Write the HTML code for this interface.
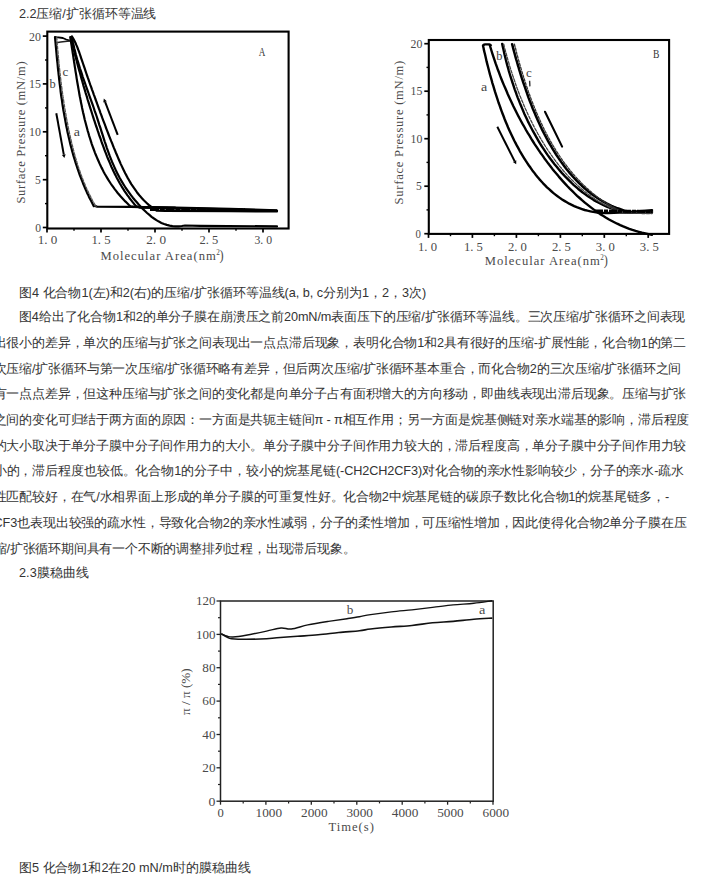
<!DOCTYPE html>
<html><head><meta charset="utf-8"><style>
html,body{margin:0;padding:0;background:#fff}
body{width:703px;height:877px;overflow:hidden;position:relative;font-family:"Liberation Sans",sans-serif}
.ln{position:absolute;white-space:nowrap;font-size:12.7px;line-height:25.4px;color:#333}
.ch{position:absolute;left:0;top:0}
</style></head><body>
<svg class="ch" width="703" height="877" viewBox="0 0 703 877"><rect x="47.3" y="31.6" width="241.3" height="196.9" fill="none" stroke="#000" stroke-width="2.1"/>
<line x1="42.8" y1="227.5" x2="47.3" y2="227.5" stroke="#000" stroke-width="1.7"/>
<line x1="42.8" y1="179.7" x2="47.3" y2="179.7" stroke="#000" stroke-width="1.7"/>
<line x1="42.8" y1="131.8" x2="47.3" y2="131.8" stroke="#000" stroke-width="1.7"/>
<line x1="42.8" y1="83.9" x2="47.3" y2="83.9" stroke="#000" stroke-width="1.7"/>
<line x1="42.8" y1="36.1" x2="47.3" y2="36.1" stroke="#000" stroke-width="1.7"/>
<line x1="45.0" y1="203.6" x2="47.3" y2="203.6" stroke="#000" stroke-width="1.4"/>
<line x1="45.0" y1="155.7" x2="47.3" y2="155.7" stroke="#000" stroke-width="1.4"/>
<line x1="45.0" y1="107.9" x2="47.3" y2="107.9" stroke="#000" stroke-width="1.4"/>
<line x1="45.0" y1="60.0" x2="47.3" y2="60.0" stroke="#000" stroke-width="1.4"/>
<line x1="47.0" y1="228.5" x2="47.0" y2="232.5" stroke="#000" stroke-width="1.7"/>
<line x1="101.0" y1="228.5" x2="101.0" y2="232.5" stroke="#000" stroke-width="1.7"/>
<line x1="155.0" y1="228.5" x2="155.0" y2="232.5" stroke="#000" stroke-width="1.7"/>
<line x1="209.0" y1="228.5" x2="209.0" y2="232.5" stroke="#000" stroke-width="1.7"/>
<line x1="263.0" y1="228.5" x2="263.0" y2="232.5" stroke="#000" stroke-width="1.7"/>
<line x1="74.0" y1="228.5" x2="74.0" y2="230.8" stroke="#000" stroke-width="1.4"/>
<line x1="128.0" y1="228.5" x2="128.0" y2="230.8" stroke="#000" stroke-width="1.4"/>
<line x1="182.0" y1="228.5" x2="182.0" y2="230.8" stroke="#000" stroke-width="1.4"/>
<line x1="236.0" y1="228.5" x2="236.0" y2="230.8" stroke="#000" stroke-width="1.4"/>
<text x="29.0" y="40.5" textLength="11.9" lengthAdjust="spacingAndGlyphs" style="font-family:'Liberation Serif';font-size:12.0px" fill="#4a4a4a" >20</text>
<text x="29.0" y="88.3" textLength="11.9" lengthAdjust="spacingAndGlyphs" style="font-family:'Liberation Serif';font-size:12.0px" fill="#4a4a4a" >15</text>
<text x="29.0" y="136.2" textLength="11.9" lengthAdjust="spacingAndGlyphs" style="font-family:'Liberation Serif';font-size:12.0px" fill="#4a4a4a" >10</text>
<text x="35.1" y="184.1" textLength="5.8" lengthAdjust="spacingAndGlyphs" style="font-family:'Liberation Serif';font-size:12.0px" fill="#4a4a4a" >5</text>
<text x="35.3" y="231.9" textLength="5.8" lengthAdjust="spacingAndGlyphs" style="font-family:'Liberation Serif';font-size:12.0px" fill="#4a4a4a" >0</text>
<text x="37.7" y="243.6" textLength="19.6" lengthAdjust="spacingAndGlyphs" style="font-family:'Liberation Serif';font-size:11.6px" fill="#4a4a4a" >1. 0</text>
<text x="91.4" y="243.6" textLength="19.2" lengthAdjust="spacingAndGlyphs" style="font-family:'Liberation Serif';font-size:11.6px" fill="#4a4a4a" >1. 5</text>
<text x="146.2" y="243.6" textLength="19.8" lengthAdjust="spacingAndGlyphs" style="font-family:'Liberation Serif';font-size:11.6px" fill="#4a4a4a" >2. 0</text>
<text x="199.6" y="243.6" textLength="18.7" lengthAdjust="spacingAndGlyphs" style="font-family:'Liberation Serif';font-size:11.6px" fill="#4a4a4a" >2. 5</text>
<text x="254.5" y="243.6" textLength="17.6" lengthAdjust="spacingAndGlyphs" style="font-family:'Liberation Serif';font-size:11.6px" fill="#4a4a4a" >3. 0</text>
<text transform="translate(25.2 203.3) rotate(-90)" x="-0.3" y="0" textLength="142.2" lengthAdjust="spacing" style="font-family:'Liberation Serif';font-size:12.6px" fill="#4a4a4a">Surface Pressure (mN/m)</text>
<text x="100.4" y="259.9" textLength="115.4" lengthAdjust="spacing" style="font-family:'Liberation Serif';font-size:12.6px" fill="#4a4a4a" >Molecular Area(nm</text>
<text x="216.2" y="254.5" textLength="3.6" lengthAdjust="spacingAndGlyphs" style="font-family:'Liberation Serif';font-size:7.5px" fill="#4a4a4a" >2</text>
<text x="219.5" y="259.9" textLength="4.1" lengthAdjust="spacingAndGlyphs" style="font-family:'Liberation Serif';font-size:14.0px" fill="#4a4a4a" >)</text>
<text x="258.7" y="55.7" textLength="6.6" lengthAdjust="spacingAndGlyphs" style="font-family:'Liberation Serif';font-size:13.4px" fill="#333" >A</text>
<rect x="428.8" y="40.0" width="240.3" height="193.9" fill="none" stroke="#000" stroke-width="2.1"/>
<line x1="424.3" y1="233.7" x2="428.8" y2="233.7" stroke="#000" stroke-width="1.7"/>
<line x1="424.3" y1="186.2" x2="428.8" y2="186.2" stroke="#000" stroke-width="1.7"/>
<line x1="424.3" y1="138.7" x2="428.8" y2="138.7" stroke="#000" stroke-width="1.7"/>
<line x1="424.3" y1="91.2" x2="428.8" y2="91.2" stroke="#000" stroke-width="1.7"/>
<line x1="424.3" y1="43.7" x2="428.8" y2="43.7" stroke="#000" stroke-width="1.7"/>
<line x1="426.5" y1="209.9" x2="428.8" y2="209.9" stroke="#000" stroke-width="1.4"/>
<line x1="426.5" y1="162.4" x2="428.8" y2="162.4" stroke="#000" stroke-width="1.4"/>
<line x1="426.5" y1="114.9" x2="428.8" y2="114.9" stroke="#000" stroke-width="1.4"/>
<line x1="426.5" y1="67.4" x2="428.8" y2="67.4" stroke="#000" stroke-width="1.4"/>
<line x1="428.5" y1="233.9" x2="428.5" y2="237.9" stroke="#000" stroke-width="1.7"/>
<line x1="472.4" y1="233.9" x2="472.4" y2="237.9" stroke="#000" stroke-width="1.7"/>
<line x1="516.4" y1="233.9" x2="516.4" y2="237.9" stroke="#000" stroke-width="1.7"/>
<line x1="560.4" y1="233.9" x2="560.4" y2="237.9" stroke="#000" stroke-width="1.7"/>
<line x1="604.3" y1="233.9" x2="604.3" y2="237.9" stroke="#000" stroke-width="1.7"/>
<line x1="648.2" y1="233.9" x2="648.2" y2="237.9" stroke="#000" stroke-width="1.7"/>
<line x1="450.5" y1="233.9" x2="450.5" y2="236.2" stroke="#000" stroke-width="1.4"/>
<line x1="494.4" y1="233.9" x2="494.4" y2="236.2" stroke="#000" stroke-width="1.4"/>
<line x1="538.4" y1="233.9" x2="538.4" y2="236.2" stroke="#000" stroke-width="1.4"/>
<line x1="582.3" y1="233.9" x2="582.3" y2="236.2" stroke="#000" stroke-width="1.4"/>
<line x1="626.3" y1="233.9" x2="626.3" y2="236.2" stroke="#000" stroke-width="1.4"/>
<text x="410.5" y="47.7" textLength="11.8" lengthAdjust="spacingAndGlyphs" style="font-family:'Liberation Serif';font-size:12.0px" fill="#4a4a4a" >20</text>
<text x="410.5" y="95.2" textLength="11.8" lengthAdjust="spacingAndGlyphs" style="font-family:'Liberation Serif';font-size:12.0px" fill="#4a4a4a" >15</text>
<text x="410.5" y="142.7" textLength="11.8" lengthAdjust="spacingAndGlyphs" style="font-family:'Liberation Serif';font-size:12.0px" fill="#4a4a4a" >10</text>
<text x="416.0" y="190.2" textLength="5.8" lengthAdjust="spacingAndGlyphs" style="font-family:'Liberation Serif';font-size:12.0px" fill="#4a4a4a" >5</text>
<text x="415.5" y="237.7" textLength="5.4" lengthAdjust="spacingAndGlyphs" style="font-family:'Liberation Serif';font-size:12.0px" fill="#4a4a4a" >0</text>
<text x="418.0" y="250.6" textLength="19.0" lengthAdjust="spacingAndGlyphs" style="font-family:'Liberation Serif';font-size:13.2px" fill="#4a4a4a" >1. 0</text>
<text x="463.9" y="250.6" textLength="19.0" lengthAdjust="spacingAndGlyphs" style="font-family:'Liberation Serif';font-size:13.2px" fill="#4a4a4a" >1. 5</text>
<text x="507.9" y="250.6" textLength="19.0" lengthAdjust="spacingAndGlyphs" style="font-family:'Liberation Serif';font-size:13.2px" fill="#4a4a4a" >2. 0</text>
<text x="551.9" y="250.6" textLength="19.0" lengthAdjust="spacingAndGlyphs" style="font-family:'Liberation Serif';font-size:13.2px" fill="#4a4a4a" >2. 5</text>
<text x="595.8" y="250.6" textLength="19.0" lengthAdjust="spacingAndGlyphs" style="font-family:'Liberation Serif';font-size:13.2px" fill="#4a4a4a" >3. 0</text>
<text x="639.8" y="250.6" textLength="19.0" lengthAdjust="spacingAndGlyphs" style="font-family:'Liberation Serif';font-size:13.2px" fill="#4a4a4a" >3. 5</text>
<text transform="translate(403.2 204.1) rotate(-90)" x="-0.3" y="0" textLength="143.7" lengthAdjust="spacing" style="font-family:'Liberation Serif';font-size:12.6px" fill="#4a4a4a">Surface Pressure (mN/m)</text>
<text x="484.7" y="264.9" textLength="115.1" lengthAdjust="spacing" style="font-family:'Liberation Serif';font-size:12.6px" fill="#4a4a4a" >Molecular Area(nm</text>
<text x="600.2" y="259.5" textLength="3.6" lengthAdjust="spacingAndGlyphs" style="font-family:'Liberation Serif';font-size:7.5px" fill="#4a4a4a" >2</text>
<text x="603.7" y="264.9" textLength="4.1" lengthAdjust="spacingAndGlyphs" style="font-family:'Liberation Serif';font-size:14.0px" fill="#4a4a4a" >)</text>
<text x="653.1" y="58.0" textLength="6.4" lengthAdjust="spacingAndGlyphs" style="font-family:'Liberation Serif';font-size:13.4px" fill="#333" >B</text>
<rect x="220.5" y="601.0" width="272.7" height="200.2" fill="none" stroke="#222" stroke-width="1.5"/>
<line x1="216.5" y1="801.2" x2="220.5" y2="801.2" stroke="#222" stroke-width="1.3"/>
<text x="208.6" y="805.5" textLength="6.9" lengthAdjust="spacingAndGlyphs" style="font-family:'Liberation Serif';font-size:12.6px" fill="#4a4a4a" >0</text>
<line x1="216.5" y1="767.8" x2="220.5" y2="767.8" stroke="#222" stroke-width="1.3"/>
<text x="202.3" y="772.1" textLength="13.2" lengthAdjust="spacingAndGlyphs" style="font-family:'Liberation Serif';font-size:12.6px" fill="#4a4a4a" >20</text>
<line x1="216.5" y1="734.5" x2="220.5" y2="734.5" stroke="#222" stroke-width="1.3"/>
<text x="202.3" y="738.8" textLength="13.2" lengthAdjust="spacingAndGlyphs" style="font-family:'Liberation Serif';font-size:12.6px" fill="#4a4a4a" >40</text>
<line x1="216.5" y1="701.1" x2="220.5" y2="701.1" stroke="#222" stroke-width="1.3"/>
<text x="202.3" y="705.4" textLength="13.2" lengthAdjust="spacingAndGlyphs" style="font-family:'Liberation Serif';font-size:12.6px" fill="#4a4a4a" >60</text>
<line x1="216.5" y1="667.7" x2="220.5" y2="667.7" stroke="#222" stroke-width="1.3"/>
<text x="202.3" y="672.0" textLength="13.2" lengthAdjust="spacingAndGlyphs" style="font-family:'Liberation Serif';font-size:12.6px" fill="#4a4a4a" >80</text>
<line x1="216.5" y1="634.4" x2="220.5" y2="634.4" stroke="#222" stroke-width="1.3"/>
<text x="196.0" y="638.7" textLength="19.5" lengthAdjust="spacingAndGlyphs" style="font-family:'Liberation Serif';font-size:12.6px" fill="#4a4a4a" >100</text>
<line x1="216.5" y1="601.0" x2="220.5" y2="601.0" stroke="#222" stroke-width="1.3"/>
<text x="196.0" y="605.3" textLength="19.5" lengthAdjust="spacingAndGlyphs" style="font-family:'Liberation Serif';font-size:12.6px" fill="#4a4a4a" >120</text>
<line x1="218.0" y1="784.5" x2="220.5" y2="784.5" stroke="#222" stroke-width="1.2"/>
<line x1="218.0" y1="751.2" x2="220.5" y2="751.2" stroke="#222" stroke-width="1.2"/>
<line x1="218.0" y1="717.8" x2="220.5" y2="717.8" stroke="#222" stroke-width="1.2"/>
<line x1="218.0" y1="684.4" x2="220.5" y2="684.4" stroke="#222" stroke-width="1.2"/>
<line x1="218.0" y1="651.1" x2="220.5" y2="651.1" stroke="#222" stroke-width="1.2"/>
<line x1="218.0" y1="617.7" x2="220.5" y2="617.7" stroke="#222" stroke-width="1.2"/>
<line x1="220.5" y1="801.2" x2="220.5" y2="804.7" stroke="#222" stroke-width="1.3"/>
<text x="217.5" y="817.0" textLength="6.3" lengthAdjust="spacingAndGlyphs" style="font-family:'Liberation Serif';font-size:13.4px" fill="#4a4a4a" >0</text>
<line x1="265.9" y1="801.2" x2="265.9" y2="804.7" stroke="#222" stroke-width="1.3"/>
<text x="255.6" y="817.0" textLength="26.5" lengthAdjust="spacingAndGlyphs" style="font-family:'Liberation Serif';font-size:13.4px" fill="#4a4a4a" >1000</text>
<line x1="311.3" y1="801.2" x2="311.3" y2="804.7" stroke="#222" stroke-width="1.3"/>
<text x="301.0" y="817.0" textLength="26.5" lengthAdjust="spacingAndGlyphs" style="font-family:'Liberation Serif';font-size:13.4px" fill="#4a4a4a" >2000</text>
<line x1="356.8" y1="801.2" x2="356.8" y2="804.7" stroke="#222" stroke-width="1.3"/>
<text x="346.4" y="817.0" textLength="26.5" lengthAdjust="spacingAndGlyphs" style="font-family:'Liberation Serif';font-size:13.4px" fill="#4a4a4a" >3000</text>
<line x1="402.2" y1="801.2" x2="402.2" y2="804.7" stroke="#222" stroke-width="1.3"/>
<text x="391.8" y="817.0" textLength="26.5" lengthAdjust="spacingAndGlyphs" style="font-family:'Liberation Serif';font-size:13.4px" fill="#4a4a4a" >4000</text>
<line x1="447.6" y1="801.2" x2="447.6" y2="804.7" stroke="#222" stroke-width="1.3"/>
<text x="437.2" y="817.0" textLength="26.5" lengthAdjust="spacingAndGlyphs" style="font-family:'Liberation Serif';font-size:13.4px" fill="#4a4a4a" >5000</text>
<line x1="493.0" y1="801.2" x2="493.0" y2="804.7" stroke="#222" stroke-width="1.3"/>
<text x="482.6" y="817.0" textLength="26.5" lengthAdjust="spacingAndGlyphs" style="font-family:'Liberation Serif';font-size:13.4px" fill="#4a4a4a" >6000</text>
<line x1="243.2" y1="801.2" x2="243.2" y2="803.4" stroke="#222" stroke-width="1.2"/>
<line x1="288.6" y1="801.2" x2="288.6" y2="803.4" stroke="#222" stroke-width="1.2"/>
<line x1="334.0" y1="801.2" x2="334.0" y2="803.4" stroke="#222" stroke-width="1.2"/>
<line x1="379.5" y1="801.2" x2="379.5" y2="803.4" stroke="#222" stroke-width="1.2"/>
<line x1="424.9" y1="801.2" x2="424.9" y2="803.4" stroke="#222" stroke-width="1.2"/>
<line x1="470.3" y1="801.2" x2="470.3" y2="803.4" stroke="#222" stroke-width="1.2"/>
<text x="328.5" y="831.0" textLength="45.4" lengthAdjust="spacing" style="font-family:'Liberation Serif';font-size:12.6px" fill="#4a4a4a" >Time(s)</text>
<text transform="translate(189.6 714.6) rotate(-90)" x="-0.3" y="0" textLength="46.5" lengthAdjust="spacingAndGlyphs" style="font-family:'Liberation Serif';font-size:12.5px" fill="#4a4a4a">π / π (%)</text>
<path d="M221.2,633.8 C222.2,634.4 225.7,636.5 227.4,637.3 C229.1,638.1 228.4,638.4 231.5,638.7 C234.6,639.0 240.2,639.3 246.0,639.3 C251.8,639.3 261.5,639.0 266.6,638.7 C271.8,638.4 271.8,638.1 276.9,637.7 C282.0,637.3 290.6,636.8 297.5,636.3 C304.4,635.8 311.2,635.4 318.1,634.8 C325.0,634.2 331.9,633.2 338.8,632.5 C345.7,631.8 354.1,631.3 359.4,630.7 C364.7,630.1 365.3,629.6 370.6,629.0 C375.9,628.4 384.4,627.6 391.3,627.0 C398.2,626.4 405.0,626.2 411.9,625.5 C418.8,624.8 425.6,623.5 432.5,622.8 C439.4,622.1 446.2,622.0 453.1,621.4 C460.0,620.8 467.3,619.8 473.8,619.3 C480.3,618.8 489.2,618.3 492.3,618.1" fill="none" stroke="#111" stroke-width="1.6"/>
<path d="M221.2,633.8 C222.2,634.2 225.4,635.8 227.4,636.3 C229.4,636.8 229.9,637.2 233.0,637.0 C236.1,636.8 240.4,636.2 246.0,635.2 C251.6,634.2 260.8,632.3 266.6,631.1 C272.4,629.9 276.9,628.4 281.0,628.0 C285.1,627.6 286.8,629.5 291.3,629.0 C295.8,628.5 301.6,626.2 307.8,624.9 C314.0,623.6 321.9,622.4 328.4,621.4 C334.9,620.4 341.8,619.5 347.0,618.7 C352.2,617.9 355.5,617.4 359.4,616.7 C363.3,616.0 365.3,615.4 370.6,614.6 C375.9,613.8 384.4,612.7 391.3,611.9 C398.2,611.1 405.0,610.6 411.9,609.9 C418.8,609.1 425.6,608.2 432.5,607.4 C439.4,606.6 446.2,605.6 453.1,604.9 C460.0,604.2 467.3,604.0 473.8,603.3 C480.3,602.6 489.2,601.2 492.3,600.8" fill="none" stroke="#111" stroke-width="1.4"/>
<text x="346.7" y="613.6" textLength="6.6" lengthAdjust="spacingAndGlyphs" style="font-family:'Liberation Serif';font-size:12.5px" fill="#4a4a4a" >b</text>
<text x="478.9" y="614.0" textLength="6.4" lengthAdjust="spacingAndGlyphs" style="font-family:'Liberation Serif';font-size:12.5px" fill="#4a4a4a" >a</text>
<path d="M55.2,36.8 L56.4,37.1 L62.8,38 L66.2,39.5 L69.8,40.6" fill="none" stroke="#000" stroke-width="1.8" stroke-linejoin="round"/>
<path d="M56.3,42.7 L60.7,42 L67.1,41.2 L70.6,41" fill="none" stroke="#222" stroke-width="1.6" stroke-linejoin="round"/>
<path d="M55.0,37.1 L55.2,39.3 L55.4,41.5 L55.6,43.6 L55.8,45.8 L56.0,48.0 L56.2,50.2 L56.4,52.4 L56.6,54.6 L56.8,56.8 L57.0,59.0 L57.2,61.2 L57.5,63.4 L57.7,65.6 L57.9,67.8 L58.1,70.0 L58.4,72.2 L58.6,74.4 L58.9,76.6 L59.1,78.8 L59.4,81.0 L59.6,83.2 L59.9,85.4 L60.2,87.6 L60.5,89.9 L60.7,92.1 L61.0,94.3 L61.3,96.5 L61.7,98.7 L62.0,100.9 L62.3,103.1 L62.6,105.3 L63.0,107.5 L63.3,109.7 L63.7,111.9 L64.1,114.0 L64.5,116.2 L64.9,118.4 L65.3,120.6 L65.7,122.8 L66.1,125.0 L66.5,127.1 L67.0,129.3 L67.4,131.5 L67.9,133.7 L68.4,135.8 L68.9,138.0 L69.4,140.1 L69.9,142.3 L70.4,144.4 L71.0,146.6 L71.6,148.7 L72.1,150.9 L72.7,153.0 L73.3,155.1 L73.9,157.2 L74.6,159.3 L75.2,161.5 L75.9,163.6 L76.6,165.7 L77.3,167.8 L78.0,169.8 L78.7,171.9 L79.4,174.0 L80.2,176.1 L81.0,178.1 L81.8,180.2 L82.6,182.2 L83.4,184.3 L84.3,186.3 L85.1,188.3 L86.0,190.3 L86.9,192.4 L87.9,194.4 L88.8,196.4 L89.8,198.4 L90.8,200.3 L91.8,202.3 L92.8,204.3 L93.8,206.2" fill="none" stroke="#000" stroke-width="2.20" stroke-linejoin="round" stroke-linecap="round" />
<path d="M94.5,205.8 L97,206.6 L130,206.9 L175,207.6 L230,208.8 L277,210.3" fill="none" stroke="#000" stroke-width="2.2"/>
<path d="M56.7,37.1 L56.9,39.3 L57.0,41.5 L57.2,43.7 L57.4,45.9 L57.6,48.1 L57.8,50.3 L58.0,52.5 L58.2,54.7 L58.4,56.9 L58.6,59.1 L58.8,61.3 L59.0,63.5 L59.2,65.8 L59.5,68.0 L59.7,70.2 L59.9,72.4 L60.2,74.6 L60.4,76.8 L60.7,79.0 L61.0,81.3 L61.2,83.5 L61.5,85.7 L61.8,87.9 L62.1,90.1 L62.4,92.3 L62.7,94.5 L63.0,96.7 L63.4,99.0 L63.7,101.2 L64.0,103.4 L64.4,105.6 L64.7,107.8 L65.1,110.0 L65.5,112.2 L65.9,114.4 L66.2,116.6 L66.6,118.8 L67.1,121.0 L67.5,123.2 L67.9,125.4 L68.3,127.6 L68.8,129.8 L69.2,132.0 L69.7,134.1 L70.2,136.3 L70.7,138.5 L71.2,140.7 L71.7,142.8 L72.2,145.0 L72.8,147.2 L73.3,149.3 L73.9,151.5 L74.4,153.6 L75.0,155.8 L75.6,157.9 L76.3,160.1 L76.9,162.2 L77.6,164.3 L78.2,166.4 L78.9,168.5 L79.6,170.6 L80.4,172.7 L81.1,174.8 L81.9,176.9 L82.7,178.9 L83.5,181.0 L84.3,183.0 L85.2,185.1 L86.0,187.1 L86.9,189.1 L87.9,191.1 L88.8,193.1 L89.8,195.1 L90.8,197.1 L91.8,199.0 L92.8,201.0 L93.9,202.9 L95.0,204.8 L96.1,206.7" fill="none" stroke="#555" stroke-width="1.30" stroke-linejoin="round" stroke-linecap="round" stroke-dasharray="3,1.5"/>
<path d="M70.3,37.2 L70.6,39.4 L71.0,41.6 L71.3,43.9 L71.7,46.1 L72.0,48.4 L72.4,50.6 L72.7,52.9 L73.1,55.1 L73.4,57.4 L73.8,59.7 L74.1,62.0 L74.5,64.3 L74.8,66.6 L75.2,68.8 L75.5,71.1 L75.9,73.4 L76.3,75.7 L76.6,78.1 L77.0,80.4 L77.4,82.7 L77.8,85.0 L78.2,87.3 L78.6,89.6 L79.0,91.9 L79.4,94.2 L79.8,96.5 L80.3,98.8 L80.7,101.1 L81.2,103.4 L81.7,105.7 L82.1,108.0 L82.6,110.3 L83.1,112.6 L83.7,114.9 L84.2,117.2 L84.7,119.5 L85.3,121.7 L85.9,124.0 L86.5,126.3 L87.1,128.5 L87.7,130.8 L88.4,133.0 L89.0,135.3 L89.7,137.5 L90.4,139.7 L91.1,141.9 L91.8,144.1 L92.6,146.3 L93.4,148.5 L94.2,150.7 L95.0,152.8 L95.9,155.0 L96.8,157.1 L97.7,159.2 L98.6,161.3 L99.5,163.4 L100.5,165.5 L101.5,167.6 L102.6,169.6 L103.6,171.7 L104.7,173.7 L105.9,175.7 L107.0,177.6 L108.2,179.6 L109.4,181.5 L110.7,183.5 L112.0,185.4 L113.3,187.2 L114.7,189.1 L116.1,190.9 L117.5,192.7 L119.0,194.5 L120.5,196.3 L122.1,198.0 L123.7,199.7 L125.3,201.4 L127.0,203.0 L128.7,204.7 L130.4,206.3 L134.0,206.8 L175.0,207.6" fill="none" stroke="#000" stroke-width="2.20" stroke-linejoin="round" stroke-linecap="round" />
<path d="M70.7,37.1 L71.2,39.3 L71.8,41.5 L72.3,43.8 L72.9,46.0 L73.4,48.2 L74.0,50.5 L74.5,52.7 L75.1,54.9 L75.7,57.2 L76.3,59.4 L76.8,61.6 L77.4,63.8 L78.0,66.1 L78.6,68.3 L79.2,70.5 L79.9,72.8 L80.5,75.0 L81.1,77.2 L81.7,79.4 L82.4,81.7 L83.0,83.9 L83.6,86.1 L84.3,88.3 L85.0,90.6 L85.6,92.8 L86.3,95.0 L87.0,97.2 L87.6,99.5 L88.3,101.7 L89.0,103.9 L89.7,106.1 L90.4,108.3 L91.1,110.5 L91.8,112.8 L92.5,115.0 L93.2,117.2 L93.9,119.4 L94.7,121.6 L95.4,123.8 L96.1,126.0 L96.9,128.2 L97.6,130.4 L98.4,132.6 L99.1,134.8 L99.9,137.0 L100.7,139.2 L101.4,141.4 L102.2,143.6 L103.0,145.7 L103.8,147.9 L104.6,150.1 L105.4,152.2 L106.3,154.4 L107.1,156.6 L108.0,158.7 L108.9,160.8 L109.8,162.9 L110.7,165.1 L111.6,167.2 L112.6,169.2 L113.5,171.3 L114.5,173.4 L115.6,175.4 L116.6,177.5 L117.7,179.5 L118.8,181.5 L119.9,183.5 L121.1,185.5 L122.2,187.4 L123.5,189.4 L124.7,191.3 L126.0,193.2 L127.3,195.1 L128.7,196.9 L130.0,198.8 L131.5,200.6 L132.9,202.4 L134.4,204.2 L136.0,205.9 L139.5,207.6 L200.0,208.6 L277.0,210.6" fill="none" stroke="#000" stroke-width="2.20" stroke-linejoin="round" stroke-linecap="round" />
<path d="M71.8,36.9 L72.4,39.8 L73.0,42.7 L73.7,45.6 L74.3,48.5 L75.1,51.4 L75.8,54.3 L76.6,57.2 L77.4,60.0 L78.3,62.9 L79.1,65.7 L80.0,68.6 L81.0,71.4 L81.9,74.2 L82.8,77.1 L83.8,79.9 L84.8,82.7 L85.8,85.5 L86.8,88.3 L87.8,91.1 L88.8,94.0 L89.8,96.8 L90.8,99.6 L91.8,102.4 L92.8,105.2 L93.8,108.0 L94.7,110.9 L95.7,113.7 L96.7,116.5 L97.6,119.4 L98.5,122.2 L99.4,125.1 L100.4,127.9 L101.3,130.8 L102.2,133.6 L103.1,136.4 L104.0,139.3 L104.9,142.1 L105.9,144.9 L106.8,147.8 L107.8,150.6 L108.8,153.4 L109.8,156.2 L110.9,158.9 L112.0,161.7 L113.2,164.4 L114.4,167.1 L115.6,169.8 L116.9,172.5 L118.2,175.1 L119.6,177.8 L121.1,180.4 L122.6,182.9 L124.2,185.5 L125.8,188.0 L127.5,190.4 L129.3,192.9 L131.1,195.3 L132.9,197.7 L134.8,200.0 L136.8,202.3 L138.7,204.5 L140.8,206.7 L142.8,208.9 L145.0,211.0 L147.1,213.0 L149.4,214.9 L151.6,216.8 L154.0,218.5 L156.4,220.1 L158.9,221.6 L161.4,222.9 L164.1,224.0 L166.8,224.9 L169.6,225.6 L172.5,226.1 L175.5,226.4 L178.6,226.3 L181.8,226.0 L185.1,225.5 L200.0,225.8 L277.0,226.4" fill="none" stroke="#000" stroke-width="2.20" stroke-linejoin="round" stroke-linecap="round" />
<path d="M72.0,36.5 L73.2,38.5 L74.3,40.6 L75.4,42.7 L76.3,44.9 L77.3,47.1 L78.1,49.4 L79.0,51.7 L79.8,54.0 L80.6,56.4 L81.4,58.8 L82.2,61.1 L83.0,63.5 L83.8,65.9 L84.6,68.2 L85.4,70.6 L86.2,73.0 L87.0,75.4 L87.8,77.7 L88.7,80.1 L89.5,82.5 L90.3,84.9 L91.2,87.2 L92.0,89.6 L92.9,91.9 L93.7,94.3 L94.6,96.7 L95.4,99.0 L96.3,101.4 L97.1,103.7 L98.0,106.1 L98.8,108.4 L99.7,110.7 L100.5,113.1 L101.4,115.4 L102.2,117.7 L103.1,120.1 L104.0,122.4 L104.9,124.7 L105.7,127.0 L106.6,129.3 L107.5,131.7 L108.4,134.0 L109.3,136.3 L110.2,138.6 L111.1,140.9 L112.1,143.2 L113.0,145.6 L113.9,147.9 L114.9,150.2 L115.8,152.5 L116.8,154.8 L117.8,157.2 L118.8,159.5 L119.8,161.8 L120.8,164.1 L121.9,166.4 L123.0,168.7 L124.1,170.9 L125.2,173.2 L126.4,175.4 L127.5,177.6 L128.8,179.8 L130.0,181.9 L131.3,184.1 L132.7,186.1 L134.1,188.2 L135.5,190.2 L136.9,192.2 L138.5,194.2 L140.0,196.1 L141.7,197.9 L143.3,199.7 L145.1,201.5 L146.9,203.2 L148.7,204.9 L150.7,206.4 L152.6,207.9 L154.7,209.4 L156.8,210.7 L165.0,210.8 L230.0,211.2 L277.0,211.5" fill="none" stroke="#000" stroke-width="2.20" stroke-linejoin="round" stroke-linecap="round" />
<path d="M150,209.2 L245,210.0" stroke="#000" stroke-width="3.4" stroke-dasharray="9,0.8,5,0.8"/>
<line x1="56.3" y1="113.2" x2="63.8" y2="154.6" stroke="#000" stroke-width="2.0"/>
<path d="M64.4,158.0 L61.9,154.9 L65.6,154.2 Z" fill="#000"/>
<line x1="117.7" y1="134.8" x2="105.1" y2="101.9" stroke="#000" stroke-width="2.0"/>
<path d="M103.8,98.6 L106.8,101.2 L103.3,102.5 Z" fill="#000"/>
<text x="62.5" y="75.5" textLength="5.8" lengthAdjust="spacingAndGlyphs" style="font-family:'Liberation Serif';font-size:12.0px" fill="#444" >c</text>
<text x="49.5" y="87.5" textLength="6.2" lengthAdjust="spacingAndGlyphs" style="font-family:'Liberation Serif';font-size:12.0px" fill="#444" >b</text>
<text x="73.7" y="136.0" textLength="6.2" lengthAdjust="spacingAndGlyphs" style="font-family:'Liberation Serif';font-size:12.0px" fill="#444" >a</text>
<path d="M483.2,46 Q483.2,44.4 485,44.4 L489.5,44.4 Q490.8,44.4 491,46" fill="none" stroke="#000" stroke-width="2.4"/>
<path d="M483.0,45.8 L483.6,48.3 L484.1,50.9 L484.8,53.5 L485.4,56.1 L486.0,58.7 L486.6,61.4 L487.3,64.1 L488.0,66.8 L488.7,69.5 L489.4,72.2 L490.1,74.9 L490.9,77.6 L491.7,80.4 L492.4,83.1 L493.3,85.9 L494.1,88.6 L494.9,91.4 L495.8,94.2 L496.7,96.9 L497.6,99.7 L498.5,102.5 L499.5,105.2 L500.5,108.0 L501.5,110.8 L502.5,113.5 L503.6,116.3 L504.6,119.0 L505.7,121.7 L506.9,124.5 L508.0,127.2 L509.2,129.9 L510.4,132.5 L511.7,135.2 L512.9,137.8 L514.2,140.5 L515.6,143.1 L516.9,145.7 L518.3,148.2 L519.7,150.8 L521.2,153.3 L522.7,155.8 L524.2,158.3 L525.7,160.7 L527.3,163.1 L528.9,165.5 L530.6,167.8 L532.2,170.2 L534.0,172.4 L535.7,174.7 L537.5,176.9 L539.3,179.1 L541.2,181.2 L543.1,183.3 L545.1,185.3 L547.0,187.3 L549.1,189.2 L551.1,191.0 L553.2,192.9 L555.4,194.6 L557.6,196.3 L559.8,197.9 L562.1,199.5 L564.4,200.9 L566.8,202.3 L569.2,203.7 L571.7,204.9 L574.2,206.1 L576.7,207.2 L579.4,208.2 L582.0,209.1 L584.7,210.0 L587.5,210.7 L590.3,211.3 L593.2,211.9 L596.1,212.3 L599.1,212.7 L602.1,212.9 L605.2,213.0 L608.3,213.0 L625.0,212.2 L652.0,212.6" fill="none" stroke="#000" stroke-width="2.40" stroke-linejoin="round" stroke-linecap="round" />
<path d="M489.9,45.5 L490.8,48.5 L491.7,51.5 L492.7,54.6 L493.7,57.6 L494.7,60.6 L495.7,63.7 L496.8,66.7 L497.9,69.8 L499.1,72.8 L500.2,75.9 L501.4,79.0 L502.6,82.0 L503.9,85.1 L505.2,88.1 L506.5,91.1 L507.8,94.2 L509.2,97.2 L510.6,100.2 L512.0,103.3 L513.4,106.3 L514.9,109.3 L516.4,112.3 L517.9,115.2 L519.5,118.2 L521.1,121.2 L522.7,124.1 L524.4,127.0 L526.0,130.0 L527.7,132.9 L529.5,135.7 L531.2,138.6 L533.0,141.5 L534.8,144.3 L536.7,147.1 L538.5,149.9 L540.4,152.7 L542.4,155.4 L544.3,158.2 L546.3,160.9 L548.3,163.6 L550.4,166.2 L552.4,168.9 L554.5,171.5 L556.7,174.0 L558.8,176.6 L561.0,179.1 L563.2,181.6 L565.5,184.1 L567.7,186.5 L570.0,188.9 L572.4,191.2 L574.7,193.5 L577.1,195.8 L579.6,198.0 L582.0,200.2 L584.5,202.3 L587.1,204.4 L589.6,206.4 L592.2,208.4 L594.9,210.4 L597.5,212.2 L600.2,214.1 L603.0,215.8 L605.7,217.5 L608.6,219.2 L611.4,220.7 L614.3,222.2 L617.2,223.7 L620.2,225.1 L623.2,226.4 L626.2,227.6 L629.3,228.8 L632.4,229.9 L635.6,230.9 L638.8,231.8 L642.0,232.7 L645.3,233.4 L648.6,234.1 L652.0,234.7" fill="none" stroke="#000" stroke-width="2.40" stroke-linejoin="round" stroke-linecap="round" />
<path d="M502.2,44.0 L502.8,46.7 L503.4,49.3 L504.0,52.0 L504.6,54.7 L505.3,57.4 L505.9,60.0 L506.6,62.7 L507.3,65.4 L508.1,68.1 L508.8,70.8 L509.6,73.5 L510.4,76.2 L511.3,78.9 L512.1,81.5 L513.0,84.2 L513.9,86.9 L514.8,89.6 L515.8,92.2 L516.7,94.9 L517.7,97.6 L518.8,100.2 L519.8,102.9 L520.9,105.5 L522.0,108.1 L523.1,110.7 L524.2,113.4 L525.4,115.9 L526.6,118.5 L527.8,121.1 L529.1,123.7 L530.4,126.2 L531.7,128.7 L533.0,131.2 L534.4,133.7 L535.8,136.2 L537.2,138.7 L538.6,141.1 L540.1,143.6 L541.6,146.0 L543.2,148.4 L544.7,150.7 L546.3,153.1 L547.9,155.4 L549.6,157.7 L551.3,160.0 L553.0,162.2 L554.7,164.4 L556.5,166.6 L558.3,168.8 L560.1,170.9 L562.0,173.1 L563.9,175.1 L565.8,177.2 L567.8,179.2 L569.8,181.2 L571.8,183.2 L573.8,185.1 L575.9,186.9 L578.0,188.7 L580.2,190.5 L582.4,192.3 L584.6,193.9 L586.9,195.5 L589.1,197.1 L591.5,198.6 L593.8,200.1 L596.2,201.5 L598.7,202.8 L601.1,204.0 L603.6,205.2 L606.2,206.3 L608.7,207.4 L611.4,208.3 L614.0,209.2 L616.7,210.0 L619.4,210.8 L622.2,211.4 L625.0,212.0 L627.8,212.4 L652.0,211.5" fill="none" stroke="#000" stroke-width="2.40" stroke-linejoin="round" stroke-linecap="round" />
<path d="M503.7,44.2 L504.3,46.7 L505.0,49.3 L505.7,51.9 L506.4,54.4 L507.1,57.0 L507.8,59.6 L508.6,62.2 L509.3,64.8 L510.1,67.4 L510.9,70.0 L511.8,72.6 L512.6,75.2 L513.5,77.8 L514.4,80.4 L515.3,83.1 L516.2,85.7 L517.1,88.3 L518.1,90.9 L519.1,93.5 L520.1,96.1 L521.2,98.7 L522.2,101.2 L523.3,103.8 L524.4,106.4 L525.5,109.0 L526.7,111.5 L527.8,114.0 L529.0,116.6 L530.2,119.1 L531.5,121.6 L532.7,124.1 L534.0,126.6 L535.3,129.1 L536.7,131.5 L538.0,134.0 L539.4,136.4 L540.8,138.8 L542.2,141.2 L543.7,143.6 L545.2,146.0 L546.7,148.3 L548.2,150.6 L549.8,152.9 L551.4,155.2 L553.0,157.5 L554.6,159.7 L556.3,161.9 L558.0,164.1 L559.7,166.3 L561.5,168.4 L563.2,170.5 L565.1,172.6 L566.9,174.7 L568.7,176.7 L570.6,178.7 L572.6,180.6 L574.5,182.5 L576.5,184.4 L578.5,186.3 L580.5,188.1 L582.6,189.8 L584.7,191.6 L586.9,193.2 L589.0,194.9 L591.2,196.5 L593.5,198.0 L595.7,199.5 L598.0,201.0 L600.4,202.4 L602.7,203.7 L605.1,205.0 L607.6,206.2 L610.0,207.4 L612.5,208.6 L615.1,209.6 L617.6,210.6 L620.3,211.6 L622.9,212.5 L625.6,213.3 L652.0,213.6" fill="none" stroke="#444" stroke-width="1.30" stroke-linejoin="round" stroke-linecap="round" stroke-dasharray="3,1.5"/>
<path d="M512.1,44.2 L512.8,46.7 L513.4,49.2 L514.1,51.7 L514.8,54.3 L515.5,56.8 L516.2,59.3 L517.0,61.9 L517.7,64.5 L518.5,67.0 L519.2,69.6 L520.0,72.2 L520.8,74.8 L521.6,77.4 L522.5,80.0 L523.3,82.5 L524.2,85.1 L525.1,87.7 L526.0,90.3 L526.9,92.9 L527.8,95.5 L528.7,98.1 L529.7,100.7 L530.7,103.3 L531.7,105.9 L532.7,108.5 L533.8,111.0 L534.9,113.6 L535.9,116.1 L537.1,118.7 L538.2,121.2 L539.4,123.7 L540.5,126.3 L541.7,128.8 L543.0,131.3 L544.2,133.7 L545.5,136.2 L546.8,138.6 L548.1,141.1 L549.5,143.5 L550.9,145.9 L552.3,148.3 L553.7,150.6 L555.2,153.0 L556.6,155.3 L558.2,157.6 L559.7,159.8 L561.3,162.1 L562.9,164.3 L564.5,166.5 L566.2,168.7 L567.9,170.8 L569.6,172.9 L571.4,174.9 L573.2,177.0 L575.0,178.9 L576.9,180.9 L578.8,182.8 L580.7,184.7 L582.6,186.5 L584.6,188.3 L586.7,190.0 L588.7,191.7 L590.8,193.4 L593.0,195.0 L595.2,196.5 L597.4,198.0 L599.6,199.4 L601.9,200.8 L604.2,202.1 L606.6,203.4 L609.0,204.6 L611.5,205.8 L614.0,206.9 L616.5,207.9 L619.1,208.8 L621.7,209.7 L624.3,210.6 L627.0,211.3 L629.7,212.0 L652.0,210.2" fill="none" stroke="#000" stroke-width="2.50" stroke-linejoin="round" stroke-linecap="round" />
<path d="M514.4,44.1 L515.0,46.6 L515.7,49.0 L516.3,51.5 L516.9,54.0 L517.6,56.5 L518.3,59.0 L519.0,61.5 L519.7,64.0 L520.4,66.5 L521.2,69.1 L521.9,71.6 L522.7,74.1 L523.5,76.7 L524.3,79.2 L525.1,81.7 L525.9,84.3 L526.8,86.8 L527.7,89.4 L528.5,91.9 L529.5,94.5 L530.4,97.0 L531.3,99.5 L532.3,102.0 L533.3,104.6 L534.3,107.1 L535.3,109.6 L536.3,112.1 L537.4,114.6 L538.5,117.1 L539.6,119.5 L540.7,122.0 L541.9,124.4 L543.0,126.9 L544.2,129.3 L545.4,131.7 L546.7,134.1 L547.9,136.5 L549.2,138.9 L550.5,141.2 L551.9,143.6 L553.2,145.9 L554.6,148.2 L556.0,150.5 L557.4,152.7 L558.9,155.0 L560.4,157.2 L561.9,159.4 L563.4,161.5 L565.0,163.7 L566.6,165.8 L568.2,167.9 L569.8,170.0 L571.5,172.0 L573.2,174.0 L574.9,176.0 L576.7,178.0 L578.5,179.9 L580.3,181.8 L582.1,183.7 L584.0,185.5 L585.9,187.3 L587.9,189.1 L589.8,190.8 L591.8,192.5 L593.9,194.2 L595.9,195.8 L598.0,197.4 L600.1,199.0 L602.3,200.5 L604.5,201.9 L606.7,203.4 L609.0,204.8 L611.3,206.1 L613.6,207.4 L615.9,208.7 L618.3,209.9 L620.8,211.1 L623.2,212.2 L625.7,213.3 L652.0,212.0" fill="none" stroke="#333" stroke-width="1.30" stroke-linejoin="round" stroke-linecap="round" stroke-dasharray="2.5,1.5"/>
<path d="M595,211 L652,211.5" stroke="#000" stroke-width="3" stroke-dasharray="8,1,4,1"/>
<line x1="497.3" y1="126.7" x2="514.6" y2="161.1" stroke="#000" stroke-width="2.0"/>
<path d="M516.2,164.2 L512.9,161.9 L516.3,160.2 Z" fill="#000"/>
<line x1="562.1" y1="146.6" x2="545" y2="111.8" stroke="#000" stroke-width="2.1" stroke-linecap="round"/>
<text x="496.2" y="59.5" textLength="6.2" lengthAdjust="spacingAndGlyphs" style="font-family:'Liberation Serif';font-size:12.0px" fill="#444" >b</text>
<text x="526.1" y="76.5" textLength="5.8" lengthAdjust="spacingAndGlyphs" style="font-family:'Liberation Serif';font-size:12.0px" fill="#444" >c</text>
<line x1="529.6" y1="80.7" x2="529.9" y2="86.4" stroke="#333" stroke-width="1.4"/>
<text x="481.1" y="90.8" textLength="6.2" lengthAdjust="spacingAndGlyphs" style="font-family:'Liberation Serif';font-size:12.0px" fill="#444" >a</text></svg>
<div class="ln" id="l0" style="left:19.0px;top:1.5px;letter-spacing:-0.058px">2.2压缩/扩张循环等温线</div>
<div class="ln" id="l1" style="left:19.0px;top:280.9px;letter-spacing:-0.023px">图4 化合物1(左)和2(右)的压缩/扩张循环等温线(a, b, c分别为1，2，3次)</div>
<div class="ln" id="l2" style="left:19.0px;top:305.2px;letter-spacing:-0.139px">图4给出了化合物1和2的单分子膜在崩溃压之前20mN/m表面压下的压缩/扩张循环等温线。三次压缩/扩张循环之间表现</div>
<div class="ln" id="l3" style="left:-6.4px;top:330.9px;letter-spacing:-0.160px">出很小的差异，单次的压缩与扩张之间表现出一点点滞后现象，表明化合物1和2具有很好的压缩-扩展性能，化合物1的第二</div>
<div class="ln" id="l4" style="left:-6.4px;top:356.6px;letter-spacing:-0.168px">次压缩/扩张循环与第一次压缩/扩张循环略有差异，但后两次压缩/扩张循环基本重合，而化合物2的三次压缩/扩张循环之间</div>
<div class="ln" id="l5" style="left:-6.4px;top:382.3px;letter-spacing:-0.172px">有一点点差异，但这种压缩与扩张之间的变化都是向单分子占有面积增大的方向移动，即曲线表现出滞后现象。压缩与扩张</div>
<div class="ln" id="l6" style="left:-6.4px;top:408.0px;letter-spacing:-0.161px">之间的变化可归结于两方面的原因：一方面是共轭主链间π - π相互作用；另一方面是烷基侧链对亲水端基的影响，滞后程度</div>
<div class="ln" id="l7" style="left:-6.4px;top:433.7px;letter-spacing:-0.172px">的大小取决于单分子膜中分子间作用力的大小。单分子膜中分子间作用力较大的，滞后程度高，单分子膜中分子间作用力较</div>
<div class="ln" id="l8" style="left:-6.4px;top:459.4px;letter-spacing:-0.102px">小的，滞后程度也较低。化合物1的分子中，较小的烷基尾链(-CH2CH2CF3)对化合物的亲水性影响较少，分子的亲水-疏水</div>
<div class="ln" id="l9" style="left:-6.4px;top:485.1px;letter-spacing:-0.170px">性匹配较好，在气/水相界面上形成的单分子膜的可重复性好。化合物2中烷基尾链的碳原子数比化合物1的烷基尾链多，-</div>
<div class="ln" id="l10" style="left:-6.4px;top:510.8px;letter-spacing:-0.147px">CF3也表现出较强的疏水性，导致化合物2的亲水性减弱，分子的柔性增加，可压缩性增加，因此使得化合物2单分子膜在压</div>
<div class="ln" id="l11" style="left:-6.4px;top:536.5px;letter-spacing:-0.200px">缩/扩张循环期间具有一个不断的调整排列过程，出现滞后现象。</div>
<div class="ln" id="l12" style="left:19.0px;top:561.3px;letter-spacing:0.033px">2.3膜稳曲线</div>
<div class="ln" id="l13" style="left:19.0px;top:856.0px;letter-spacing:-0.027px">图5 化合物1和2在20 mN/m时的膜稳曲线</div>
</body></html>
